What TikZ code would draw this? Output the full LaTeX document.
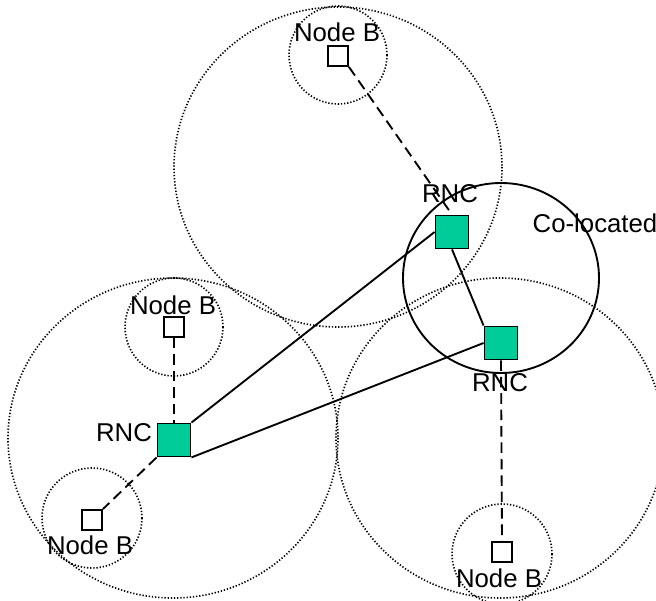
\documentclass[tikz,border=0pt]{standalone}
\usepackage{fontspec}
\setmainfont{Liberation Sans}
\definecolor{rncgreen}{RGB}{0,204,153}
\tikzset{
	cellarea/.style={line width=1.4pt, dash pattern=on 1.1pt off 1.6pt},
	colocated/.style={line width=1.6pt},
	nodeb/.style={draw, line width=1.6pt, minimum size=0.6cm, inner sep=0pt},
	rnc/.style={draw, fill=rncgreen, line width=1.6pt, minimum size=0.99cm, inner sep=0pt},
	iub/.style={line width=1.6pt, dash pattern=on 9pt off 5pt},
	iur/.style={line width=1.6pt}
}

\begin{document}
\begin{tikzpicture}[x=0.03cm, y=-0.03cm, font=\fontsize{22}{26}\selectfont]
	\useasboundingbox (0, 0) rectangle (656, 601);
	\clip (0, 0) rectangle (656, 601);

	\draw[cellarea] (338, 167) ellipse [x radius=164, y radius=160];
	\draw[cellarea] (173, 438) ellipse [x radius=165, y radius=160];
	\draw[cellarea] (500, 438) ellipse [x radius=164, y radius=160];

	\draw[cellarea] (338, 55) circle [radius=49];
	\draw[cellarea] (174, 327) circle [radius=49];
	\draw[cellarea] (92, 518) circle [radius=50];
	\draw[cellarea] (502, 554) circle [radius=50];

	\draw[colocated] (501, 278) ellipse [x radius=98, y radius=95];

	\node[nodeb] (nbTop) at (338, 56) {};
	\node[nodeb] (nbLeft) at (174, 327) {};
	\node[nodeb] (nbLow) at (92, 520) {};
	\node[nodeb] (nbRight) at (502, 552) {};

	\node[rnc] (rncTop) at (452, 232) {};
	\node[rnc] (rncRight) at (501, 343) {};
	\node[rnc] (rncLeft) at (174, 440) {};

	\node (lblTop) at (337, 32) {Node B};
	\node (lblLeft) at (173, 305) {Node B};
	\node (lblLow) at (90, 545) {Node B};
	\node (lblRight) at (499, 578) {Node B};
	\node (lblRncTop) at (450, 194) {RNC};
	\node (lblRncRight) at (500, 383) {RNC};
	\node (lblRncLeft) at (124, 433) {RNC};
	\node (lblCo) at (595, 223) {Co-located};

	\draw[iub] (nbTop.south east) -- (rncTop.north);
	\draw[iub] (nbLeft.south) -- (rncLeft.north);
	\draw[iub] (rncLeft.south west) -- (nbLow.north east);
	\draw[iub] (rncRight.south) -- (nbRight.north);

	\draw[iur] (rncLeft.north east) -- (rncTop.west);
	\draw[iur] (rncLeft.south east) -- (rncRight.west);
	\draw[iur] (rncTop.south) -- (rncRight.north west);
\end{tikzpicture}
\end{document}
